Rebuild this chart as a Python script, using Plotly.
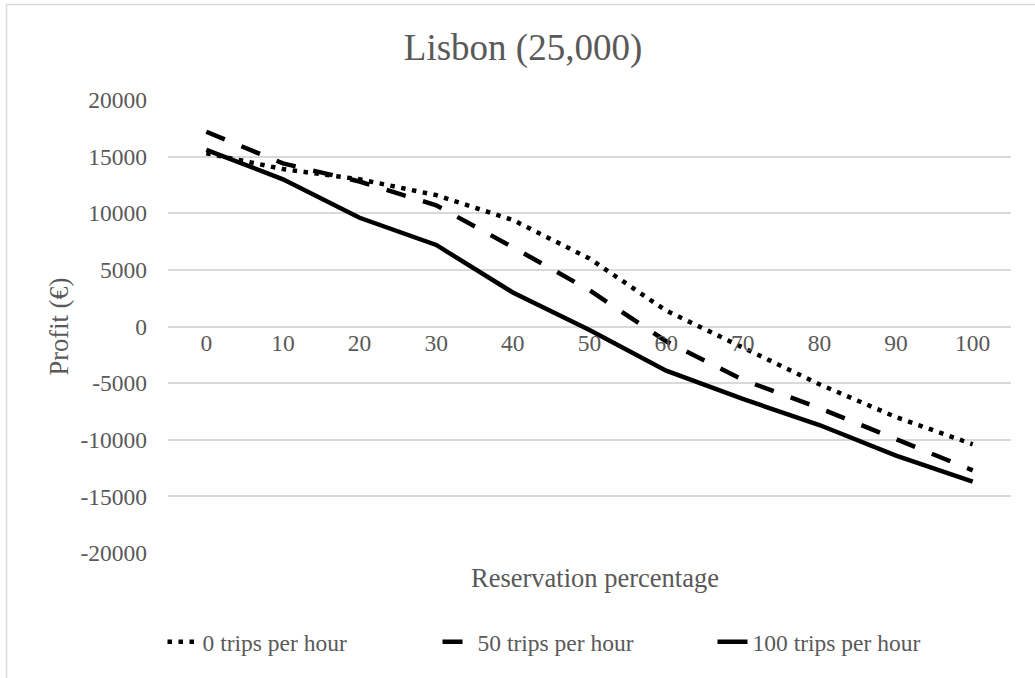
import plotly.graph_objects as go

reservation = ["0", "10", "20", "30", "40", "50", "60", "70", "80", "90", "100"]
trips_0 = [15300, 13900, 13000, 11600, 9400, 6000, 1400, -1900, -5100, -8000, -10400]
trips_50 = [17200, 14400, 12800, 10700, 7000, 3200, -1300, -4700, -7200, -10000, -12700]
trips_100 = [15600, 13000, 9600, 7200, 3000, -300, -3900, -6400, -8700, -11400, -13700]
y_ticks = [20000, 15000, 10000, 5000, 0, -5000, -10000, -15000, -20000]
y_tick_text = ["20000", "15000", "10000", "5000", "0", "-5000", "-10000", "-15000", "-20000"]

FONT = "Liberation Serif, Times New Roman, serif"
GREY = "#595959"
GRID = "#d9d9d9"

fig = go.Figure()
fig.add_trace(go.Scatter(x=reservation, y=trips_0, mode="lines", name="0 trips per hour",
                         line=dict(color="black", width=4.5, dash="4.5px,6.5px")))
fig.add_trace(go.Scatter(x=reservation, y=trips_50, mode="lines", name="50 trips per hour",
                         line=dict(color="black", width=4.5, dash="20px,18px")))
fig.add_trace(go.Scatter(x=reservation, y=trips_100, mode="lines", name="100 trips per hour",
                         line=dict(color="black", width=4.5)))

L, R, T, B = 168, 24, 100, 125
W, H = 1035, 678
pw, ph = W - L - R, H - T - B

def px_x(p):
    return (p - L) / pw

def px_y(p):
    return (H - B - p) / ph

fig.update_layout(
    width=W, height=H,
    margin=dict(l=L, r=R, t=T, b=B),
    paper_bgcolor="white", plot_bgcolor="white",
    font=dict(family=FONT, color=GREY),
    title=dict(text="Lisbon (25,000)", x=523 / W, xref="container", xanchor="center",
               y=1 - 47 / H, yref="container", yanchor="middle",
               font=dict(size=37, color=GREY, family=FONT)),
    xaxis=dict(type="category", categoryorder="array", categoryarray=reservation,
               anchor="free", position=0.5, showgrid=False, zeroline=False, showline=False,
               ticks="", tickfont=dict(size=23.5, color=GREY, family=FONT),
               range=[-0.5, len(reservation) - 0.5]),
    yaxis=dict(range=[-20000, 20000], tickvals=y_ticks, ticktext=y_tick_text,
               showgrid=True, gridcolor=GRID,
               gridwidth=1.5, zeroline=True, zerolinecolor=GRID, zerolinewidth=1.5,
               ticks="", ticklabelstandoff=20,
               tickfont=dict(size=23.5, color=GREY, family=FONT),
               title=dict(text="Profit (€)", font=dict(size=26.5, color=GREY, family=FONT),
                          standoff=4)),
    legend=dict(orientation="h", xref="container", yref="container",
                x=575 / W, xanchor="center", y=1 - 642 / H, yanchor="middle",
                font=dict(size=23.5, color=GREY, family=FONT), itemwidth=30,
                entrywidth=230, entrywidthmode="pixels",
                traceorder="normal"),
    showlegend=True,
)

fig.add_annotation(text="Reservation percentage", xref="paper", yref="paper",
                   x=px_x(595), y=px_y(578), xanchor="center", yanchor="middle",
                   showarrow=False, font=dict(size=26.5, color=GREY, family=FONT))

fig.add_shape(type="rect", xref="paper", yref="paper",
              x0=px_x(6.5), x1=px_x(1045), y0=px_y(4.5), y1=px_y(700),
              line=dict(color=GRID, width=1.5), fillcolor="rgba(0,0,0,0)", layer="below")

fig.write_html("out.html")
